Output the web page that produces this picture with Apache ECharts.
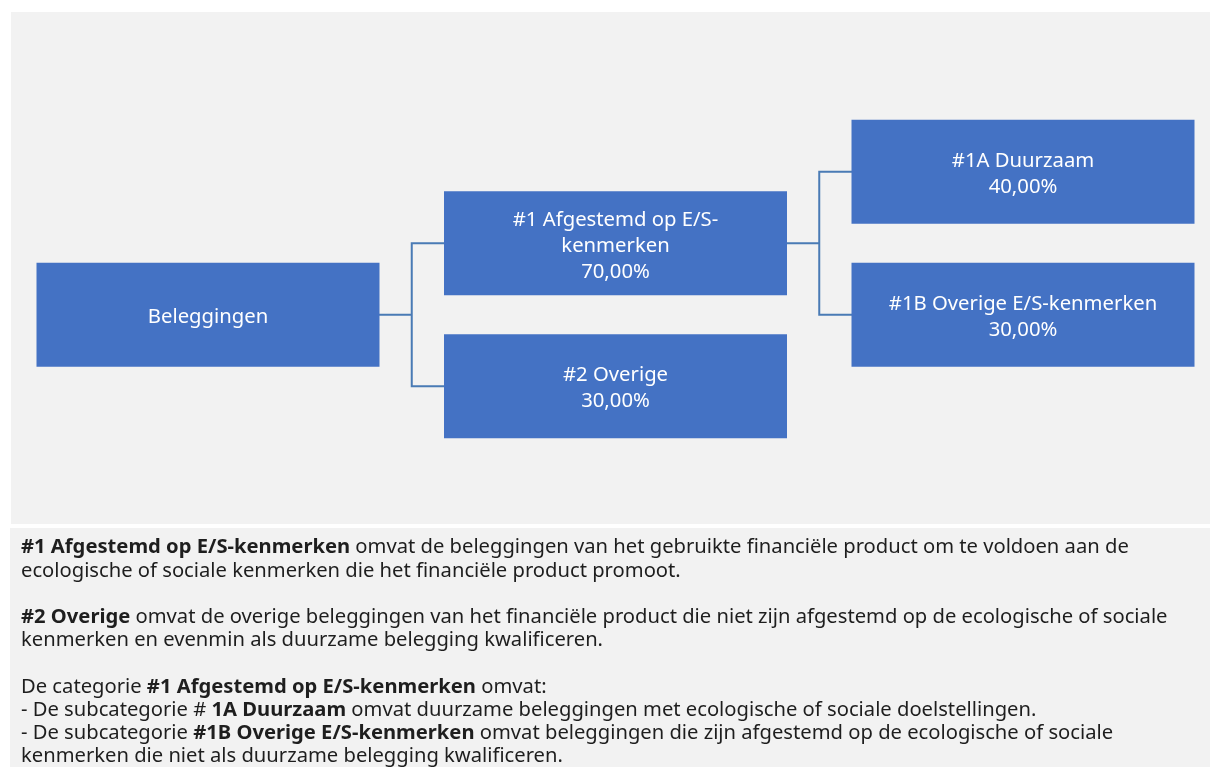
<!DOCTYPE html>
<html>
<head>
<meta charset="utf-8">
<script src="https://cdn.jsdelivr.net/npm/echarts@6/dist/echarts.min.js"></script>
<style>
html,body{margin:0;padding:0;background:#ffffff;}
#chart{width:1210px;height:767px;}
</style>
</head>
<body>
<div id="chart"></div>
<script>
// ---- data ----
const rootName = 'Beleggingen';
const level1Names = ['#1 Afgestemd op E/S-\nkenmerken', '#2 Overige'];
const level1Values = [70, 30];
const level2Names = ['#1A Duurzaam', '#1B Overige E/S-kenmerken'];
const level2Values = [40, 30];

const textLines = [
  '{b|#1 Afgestemd op E/S-kenmerken} omvat de beleggingen van het gebruikte financiële product om te voldoen aan de',
  'ecologische of sociale kenmerken die het financiële product promoot.',
  '',
  '{b|#2 Overige} omvat de overige beleggingen van het financiële product die niet zijn afgestemd op de ecologische of sociale',
  'kenmerken en evenmin als duurzame belegging kwalificeren.',
  '',
  'De categorie {b|#1 Afgestemd op E/S-kenmerken} omvat:',
  '- De subcategorie # {b|1A Duurzaam} omvat duurzame beleggingen met ecologische of sociale doelstellingen.',
  '- De subcategorie {b|#1B Overige E/S-kenmerken} omvat beleggingen die zijn afgestemd op de ecologische of sociale',
  'kenmerken die niet als duurzame belegging kwalificeren.'
];

// ---- build tree ----
function buildTree() {
  return [{
    name: rootName,
    children: [
      {
        name: level1Names[0], value: level1Values[0],
        children: level2Names.map((n, i) => ({ name: n, value: level2Values[i] }))
      },
      { name: level1Names[1], value: level1Values[1] }
    ]
  }];
}

const fmt = v => v.toFixed(2).replace('.', ',') + '%';
const labelFormatter = p => (p.value != null && p.value !== '' && !isNaN(p.value)) ? p.name + '\n' + fmt(+p.value) : p.name;

const FONT = '"Noto Sans", "Open Sans", sans-serif';
const boxColor = '#4472c4';
const lineColor = '#4a7bb5';
const BODY_SIZE = 20.2;

const layoutCommon = {
  type: 'tree',
  orient: 'LR',
  layout: 'orthogonal',
  edgeShape: 'polyline',
  edgeForkPosition: '50%',
  left: 208, right: 187, top: 29, bottom: 238,
  expandAndCollapse: false,
  initialTreeDepth: -1,
  roam: false,
  animation: false
};

const boxLabel = {
  show: true,
  position: 'inside',
  color: '#ffffff',
  fontFamily: FONT,
  fontSize: 20.3,
  lineHeight: 26,
  align: 'center',
  verticalAlign: 'middle',
  offset: [0, 2.5],
  formatter: labelFormatter
};

const chart = echarts.init(document.getElementById('chart'), null, { renderer: 'canvas' });
chart.setOption({
  backgroundColor: '#ffffff',
  animation: false,
  graphic: [
    { type: 'rect', z: -10, shape: { x: 11, y: 12, width: 1199, height: 512 }, style: { fill: '#f2f2f2' } },
    { type: 'rect', z: -10, shape: { x: 10, y: 528, width: 1200, height: 239 }, style: { fill: '#f2f2f2' } },
    {
      type: 'text', z: 5, x: 21, y: 536,
      style: {
        text: textLines.join('\n'),
        fill: '#1e1e1e',
        fontFamily: FONT,
        fontSize: BODY_SIZE,
        lineHeight: 23.2,
        rich: {
          b: { fontWeight: 'bold', fontFamily: FONT, fontSize: BODY_SIZE, lineHeight: 23.2, fill: '#1e1e1e' }
        }
      }
    }
  ],
  series: [
    Object.assign({}, layoutCommon, {
      z: 1,
      data: buildTree(),
      symbol: 'rect',
      symbolSize: 1,
      itemStyle: { color: 'rgba(0,0,0,0)', borderWidth: 0 },
      label: { show: false },
      leaves: { label: { show: false } },
      lineStyle: { color: lineColor, width: 2, curveness: 0 },
      emphasis: { disabled: true }
    }),
    Object.assign({}, layoutCommon, {
      z: 3,
      data: buildTree(),
      symbol: 'rect',
      symbolSize: [343, 104],
      itemStyle: { color: boxColor, borderWidth: 0 },
      label: boxLabel,
      leaves: { label: boxLabel },
      lineStyle: { width: 0, opacity: 0 },
      emphasis: { disabled: true }
    })
  ]
});
</script>
</body>
</html>
